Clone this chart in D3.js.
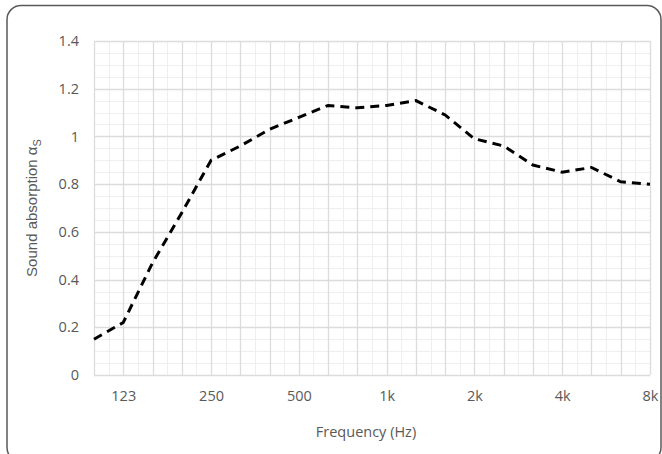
<!DOCTYPE html>
<html>
<head>
<meta charset="utf-8">
<script src="https://cdn.jsdelivr.net/npm/d3@7"></script>
<style>
  body { margin: 0; background: #fff; }
  svg { display: block; }
  .tick text { fill: #595959; }
</style>
</head>
<body>
<svg class="absorption" width="662" height="454"></svg>
<script>
// Set dimensions
var width = 662,
    height = 454,
    margin = {top: 41, right: 12, bottom: 79, left: 94};

var plotW = width - margin.left - margin.right,
    plotH = height - margin.top - margin.bottom;

// Third-octave bands (Hz) and measured absorption
var bands = [100, 125, 160, 200, 250, 315, 400, 500, 630, 800,
             1000, 1250, 1600, 2000, 2500, 3150, 4000, 5000, 6300, 8000];
var absorption = [0.15, 0.22, 0.47, 0.68, 0.90, 0.96, 1.03, 1.08, 1.13, 1.12,
                  1.13, 1.15, 1.09, 0.99, 0.96, 0.88, 0.85, 0.87, 0.81, 0.80];

// Labelled ticks
var tickBands = [125, 250, 500, 1000, 2000, 4000, 8000];
var tickLabels = ["123", "250", "500", "1k", "2k", "4k", "8k"];
var yTicks = [0, 0.2, 0.4, 0.6, 0.8, 1, 1.2, 1.4];

var svg = d3.select("svg.absorption");

// outer frame
svg.append("rect")
    .attr("x", 7)
    .attr("y", 5.5)
    .attr("width", 654)
    .attr("height", 456)
    .attr("rx", 14)
    .attr("fill", "none")
    .attr("stroke", "#5a5a5a")
    .attr("stroke-width", 1.5);

// Scales: band index on x (log spaced categories), value on y
var x = d3.scaleLinear()
    .domain([0, bands.length - 1])
    .range([0, plotW]);

var y = d3.scaleLinear()
    .domain([0, 1.4])
    .range([plotH, 0]);

var g = svg.append("g")
    .attr("transform", "translate(" + margin.left + "," + margin.top + ")");

// minor grid
var minorX = d3.range(0.5, bands.length - 1, 1);
var minorY = d3.range(0, 1.4001, 0.05);

g.append("g").selectAll("line")
    .data(minorY)
    .enter().append("line")
    .attr("x1", 0).attr("x2", plotW)
    .attr("y1", function(d) { return Math.round(y(d)) + 0.5; })
    .attr("y2", function(d) { return Math.round(y(d)) + 0.5; })
    .attr("stroke", "#efefef");

g.append("g").selectAll("line")
    .data(minorX)
    .enter().append("line")
    .attr("x1", function(d) { return Math.round(x(d)) + 0.5; })
    .attr("x2", function(d) { return Math.round(x(d)) + 0.5; })
    .attr("y1", 0).attr("y2", plotH)
    .attr("stroke", "#efefef");

// major grid
g.append("g").selectAll("line")
    .data(yTicks)
    .enter().append("line")
    .attr("x1", 0).attr("x2", plotW)
    .attr("y1", function(d) { return Math.round(y(d)) + 0.5; })
    .attr("y2", function(d) { return Math.round(y(d)) + 0.5; })
    .attr("stroke", "#dcdcdc")
    .attr("stroke-width", 1.3);

g.append("g").selectAll("line")
    .data(d3.range(bands.length))
    .enter().append("line")
    .attr("x1", function(d) { return Math.round(x(d)) + 0.5; })
    .attr("x2", function(d) { return Math.round(x(d)) + 0.5; })
    .attr("y1", 0).attr("y2", plotH)
    .attr("stroke", "#dcdcdc")
    .attr("stroke-width", 1.3);

// Axes
var xAxis = d3.axisBottom(x)
    .tickValues(tickBands.map(function(b) { return bands.indexOf(b); }))
    .tickFormat(function(d, i) { return tickLabels[i]; })
    .tickSize(0)
    .tickPadding(16);

var yAxis = d3.axisLeft(y)
    .tickValues(yTicks)
    .tickFormat(d3.format("~g"))
    .tickSize(0)
    .tickPadding(15);

g.append("g")
    .attr("transform", "translate(0," + plotH + ")")
    .call(xAxis)
    .call(function(s) { s.select(".domain").remove(); })
    .selectAll("text")
    .style("font-family", "Open Sans")
    .style("font-size", "14.5px");

g.append("g")
    .call(yAxis)
    .call(function(s) { s.select(".domain").remove(); })
    .selectAll("text")
    .style("font-family", "Open Sans")
    .style("font-size", "14.5px");

// Line
var line = d3.line()
    .x(function(d, i) { return x(i); })
    .y(function(d) { return y(d); });

g.append("path")
    .datum(absorption)
    .attr("d", line)
    .attr("fill", "none")
    .attr("stroke", "#000")
    .attr("stroke-width", 3)
    .attr("stroke-dasharray", "9,6");

// Titles
svg.append("text")
    .attr("x", margin.left + plotW / 2 - 6)
    .attr("y", 437)
    .attr("text-anchor", "middle")
    .style("font-family", "Open Sans")
    .style("font-size", "14.5px")
    .style("fill", "#595959")
    .text("Frequency (Hz)");

var yt = svg.append("text")
    .attr("transform", "translate(37,208) rotate(-90)")
    .attr("text-anchor", "middle")
    .style("font-family", "Liberation Sans")
    .style("font-size", "15px")
    .style("fill", "#595959");
yt.append("tspan").text("Sound absorption α");
yt.append("tspan")
    .attr("dy", 4)
    .style("font-size", "11px")
    .text("S");
</script>
</body>
</html>
